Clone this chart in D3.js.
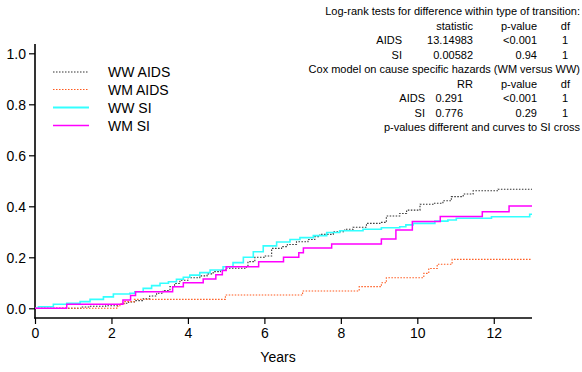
<!DOCTYPE html>
<html><head><meta charset="utf-8">
<script src="https://cdn.jsdelivr.net/npm/d3@7"></script>
<style>body{margin:0;background:#fff}svg{display:block}text{font-family:"Liberation Sans",Arial,sans-serif;fill:#000}</style>
</head><body>
<svg id="c" width="582" height="372"></svg>
<script>
// ---- data ----
const xTicks = [0, 2, 4, 6, 8, 10, 12];
const yTicks = [0, 0.2, 0.4, 0.6, 0.8, 1.0];
const seriesNames = ["WW AIDS", "WM AIDS", "WW SI", "WM SI"];
const tMax = 13;

const wwAidsT = [0,1.2,1.45,1.85,2.15,2.3,2.45,2.6,2.83,3.0,3.18,3.35,3.53,3.65,3.79,4.0,4.31,4.5,4.66,4.85,5.01,5.53,5.57,5.75,6.0,6.19,6.45,6.6,6.84,7.14,7.32,7.45,7.8,8.1,8.32,8.67,9.02,9.19,9.54,9.72,10.07,10.41,10.67,10.89,11.2,11.46,12.11];
const wwAidsP = [0,0.005,0.008,0.01,0.015,0.02,0.025,0.03,0.037,0.048,0.059,0.07,0.085,0.097,0.11,0.12,0.127,0.135,0.144,0.15,0.157,0.163,0.183,0.2,0.205,0.235,0.242,0.25,0.261,0.27,0.281,0.29,0.3,0.31,0.318,0.333,0.337,0.362,0.372,0.385,0.408,0.412,0.422,0.438,0.448,0.461,0.467];

const wmAidsT = [0,2.14,2.22,2.35,2.6,4.98,7.0,8.48,9.06,9.19,10.17,10.3,10.52,10.91];
const wmAidsP = [0,0.008,0.018,0.026,0.035,0.052,0.068,0.085,0.1,0.12,0.137,0.156,0.173,0.192];

const wwSiT = [0,0.09,0.48,0.83,1.18,1.44,1.79,2.05,2.48,2.61,2.83,3.05,3.27,3.49,3.7,3.88,4.05,4.31,4.58,4.92,5.18,5.45,5.71,5.97,6.32,6.67,6.93,7.28,7.63,7.97,8.58,9.06,9.54,9.7,9.89,10.46,10.8,11.02,11.94,12.94];
const wwSiP = [0,0.006,0.016,0.02,0.026,0.035,0.045,0.056,0.059,0.065,0.078,0.089,0.098,0.104,0.114,0.122,0.13,0.14,0.15,0.163,0.179,0.2,0.222,0.245,0.26,0.27,0.277,0.285,0.297,0.304,0.31,0.316,0.32,0.327,0.333,0.342,0.346,0.353,0.359,0.369];

const wmSiT = [0,0.83,2.3,2.5,2.63,3.6,3.88,4.4,4.73,4.9,5.0,5.85,6.5,6.9,7.02,7.76,9.06,9.44,9.87,10.6,11.7,12.4];
const wmSiP = [0,0.016,0.033,0.05,0.065,0.085,0.1,0.115,0.132,0.148,0.163,0.183,0.2,0.218,0.236,0.252,0.272,0.307,0.34,0.36,0.379,0.401];

const logrankHead = ["statistic", "p-value", "df"];
const logrankRows = [["AIDS", "13.14983", "<0.001", "1"], ["SI", "0.00582", "0.94", "1"]];
const coxHead = ["RR", "p-value", "df"];
const coxRows = [["AIDS", "0.291", "<0.001", "1"], ["SI", "0.776", "0.29", "1"]];

// ---- drawing ----
const svg = d3.select("#c");
const x = d3.scaleLinear().domain([0, tMax]).range([35, 532]);
const y = d3.scaleLinear().domain([0, 1]).range([308.3, 53.3]);

const styles = [
  {color: "#333", width: 1.1, dash: "1.5,1.5"},
  {color: "#ff5a1e", width: 1.1, dash: "1.5,1.5"},
  {color: "#33ffff", width: 1.6, dash: null},
  {color: "#ff00ff", width: 1.5, dash: null}
];
const seriesT = [wwAidsT, wmAidsT, wwSiT, wmSiT];
const seriesP = [wwAidsP, wmAidsP, wwSiP, wmSiP];

// axes
const yAxis = svg.append("g").attr("transform", "translate(35,0)")
  .call(d3.axisLeft(y).tickValues(yTicks).tickFormat(d3.format(".1f")).tickSize(6).tickPadding(3));
yAxis.select(".domain").remove();
yAxis.selectAll("line").attr("stroke", "#000").attr("stroke-width", 1.2);
yAxis.selectAll("text").style("font-size", "14px").attr("dy", "0.35em");
svg.append("line").attr("x1", 35).attr("x2", 35).attr("y1", 44).attr("y2", 318.5)
  .attr("stroke", "#000").attr("stroke-width", 1.6);

const xAxis = svg.append("g").attr("transform", "translate(0,318)")
  .call(d3.axisBottom(x).tickValues(xTicks).tickFormat(d3.format("d")).tickSize(6).tickPadding(4));
xAxis.select(".domain").remove();
xAxis.selectAll("line").attr("stroke", "#000").attr("stroke-width", 1.2);
xAxis.selectAll("text").style("font-size", "14px");
svg.append("line").attr("x1", 34.2).attr("x2", 532).attr("y1", 318).attr("y2", 318)
  .attr("stroke", "#000").attr("stroke-width", 1.6);

svg.append("text").attr("x", 278).attr("y", 362).attr("text-anchor", "middle")
  .style("font-size", "14px").text("Years");

// curves
const line = d3.line().x(d => x(d[0])).y(d => y(d[1])).curve(d3.curveStepAfter);
seriesT.forEach((ts, i) => {
  const pts = ts.map((t, j) => [t, seriesP[i][j]]);
  pts.push([tMax, seriesP[i][seriesP[i].length - 1]]);
  svg.append("path").attr("d", line(pts)).attr("fill", "none")
    .attr("stroke", styles[i].color).attr("stroke-width", styles[i].width)
    .attr("stroke-dasharray", styles[i].dash);
});

// legend
const legY = [72, 89.5, 107.5, 125.5];
seriesNames.forEach((n, i) => {
  svg.append("line").attr("x1", 53).attr("x2", 89).attr("y1", legY[i]).attr("y2", legY[i])
    .attr("stroke", styles[i].color).attr("stroke-width", styles[i].width + (i === 2 ? 0.6 : 0))
    .attr("stroke-dasharray", styles[i].dash);
  svg.append("text").attr("x", 108).attr("y", legY[i] + 5).style("font-size", "14px").text(n);
});

// annotation table
const fs = "11px";
function txt(xx, yy, s, anchor) {
  svg.append("text").attr("x", xx).attr("y", yy).attr("text-anchor", anchor)
    .style("font-size", fs).text(s);
}
const rowY = [15, 29.5, 44, 58.5, 73, 87.5, 102, 116.5, 131];
txt(580, rowY[0], "Log-rank tests for difference within type of transition:", "end");
const colX = [473, 537, 570];
logrankHead.forEach((h, i) => txt(colX[i], rowY[1], h, "end"));
logrankRows.forEach((r, k) => {
  txt(402, rowY[2 + k], r[0], "end");
  txt(473, rowY[2 + k], r[1], "end");
  txt(537, rowY[2 + k], r[2], "end");
  txt(568, rowY[2 + k], r[3], "end");
});
txt(580, rowY[4], "Cox model on cause specific hazards (WM versus WW)", "end");
coxHead.forEach((h, i) => txt(colX[i], rowY[5], h, "end"));
coxRows.forEach((r, k) => {
  txt(425, rowY[6 + k], r[0], "end");
  txt(463, rowY[6 + k], r[1], "end");
  txt(537, rowY[6 + k], r[2], "end");
  txt(568, rowY[6 + k], r[3], "end");
});
txt(580, rowY[8], "p-values different and curves to SI cross", "end");
</script>
</body></html>
